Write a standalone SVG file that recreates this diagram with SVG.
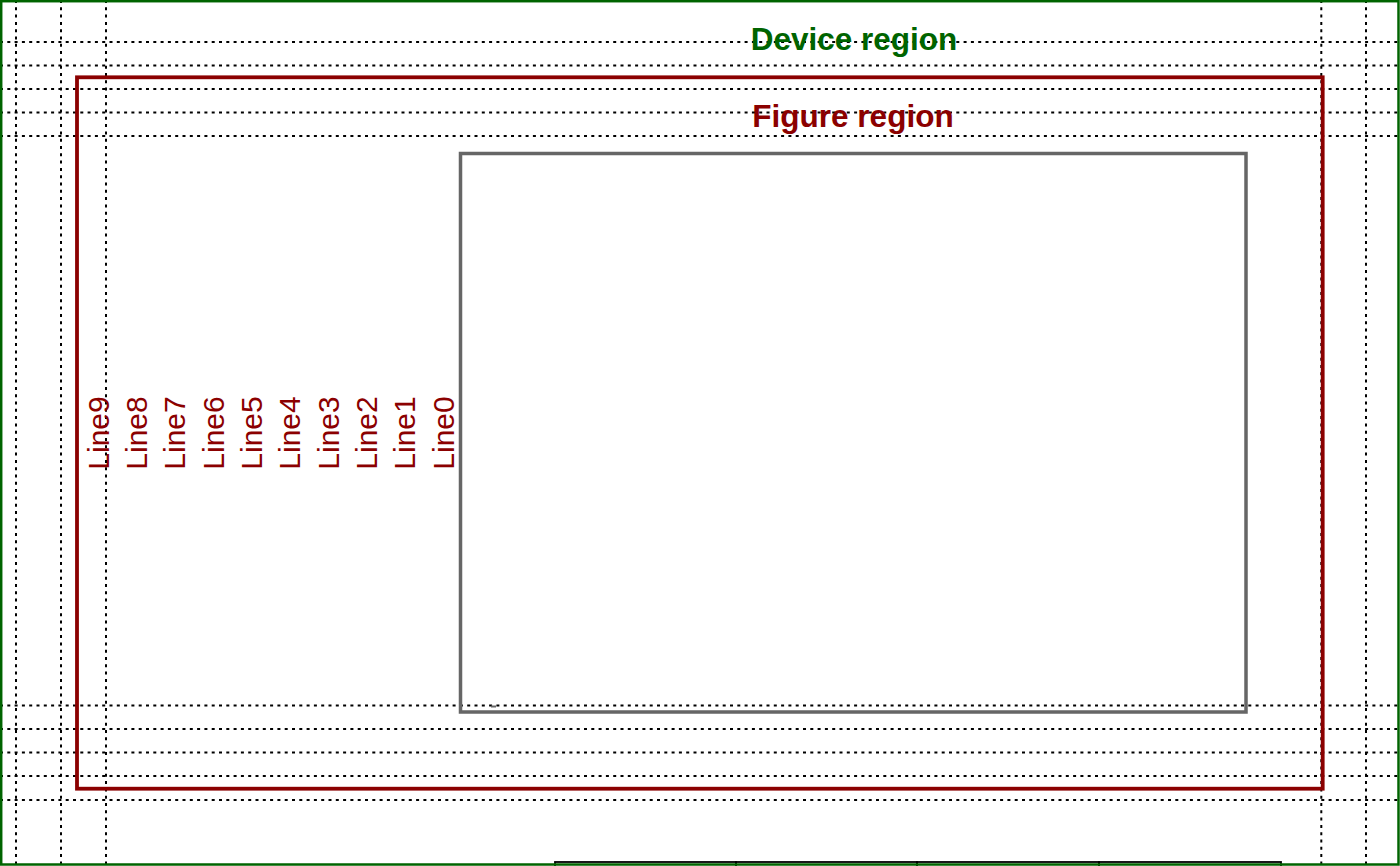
<svg xmlns="http://www.w3.org/2000/svg" width="1400" height="866" viewBox="0 0 1400 866">
<style>
.grid{stroke:#000;stroke-width:2;stroke-dasharray:3 4.3;fill:none}
.lbl{font-family:"Liberation Sans",Arial,sans-serif;font-size:30px;fill:#8B0000;text-anchor:middle}
.title{font-family:"Liberation Sans",Arial,sans-serif;font-size:31.5px;font-weight:bold;text-anchor:middle}
</style>
<rect width="1400" height="866" fill="#fff"/>
<g id="connectors">
<line class="grid" x1="16" y1="0" x2="16" y2="866"/>
<line class="grid" x1="61" y1="0" x2="61" y2="866"/>
<line class="grid" x1="106" y1="0" x2="106" y2="866"/>
<line class="grid" x1="1321.3" y1="0" x2="1321.3" y2="866"/>
<line class="grid" x1="1366" y1="0" x2="1366" y2="866"/>
<line class="grid" x1="0" y1="42" x2="1400" y2="42"/>
<line class="grid" x1="0" y1="65.5" x2="1400" y2="65.5"/>
<line class="grid" x1="0" y1="89" x2="1400" y2="89"/>
<line class="grid" x1="0" y1="112.5" x2="1400" y2="112.5"/>
<line class="grid" x1="0" y1="136" x2="1400" y2="136"/>
<line class="grid" x1="0" y1="705.5" x2="1400" y2="705.5"/>
<line class="grid" x1="0" y1="729" x2="1400" y2="729"/>
<line class="grid" x1="0" y1="752.5" x2="1400" y2="752.5"/>
<line class="grid" x1="0" y1="776" x2="1400" y2="776"/>
<line class="grid" x1="0" y1="800" x2="1400" y2="800"/>
</g>
<g id="bottom-boxes" fill="none" stroke="#000" stroke-width="1.8">
<rect x="555" y="862" width="181" height="20"/>
<rect x="736" y="862" width="181" height="20"/>
<rect x="917" y="862" width="182" height="20"/>
<rect x="1099" y="862" width="182" height="20"/>
</g>
<g id="device-region">
<rect x="1.2" y="1.2" width="1397.3" height="863.3" fill="none" stroke="#006400" stroke-width="2.5"/>
<text class="title" x="854" y="50" fill="#006400">Device region</text>
</g>
<g id="figure-region">
<rect x="77" y="77.3" width="1245.7" height="711.4" fill="none" stroke="#8B0000" stroke-width="3.8"/>
<text class="title" x="853" y="126.5" fill="#8B0000">Figure region</text>
</g>
<g id="plot-region">
<rect x="460.5" y="153.5" width="785.5" height="558.5" fill="none" stroke="#666" stroke-width="3.5"/>
<line x1="491" y1="706.5" x2="496" y2="706.5" stroke="#666" stroke-width="2"/>
</g>
<g id="margin-lines">
<text class="lbl" transform="translate(453.5,433) rotate(-90)">Line0</text>
<text class="lbl" transform="translate(415.2,433) rotate(-90)">Line1</text>
<text class="lbl" transform="translate(376.9,433) rotate(-90)">Line2</text>
<text class="lbl" transform="translate(338.6,433) rotate(-90)">Line3</text>
<text class="lbl" transform="translate(300.3,433) rotate(-90)">Line4</text>
<text class="lbl" transform="translate(262,433) rotate(-90)">Line5</text>
<text class="lbl" transform="translate(223.7,433) rotate(-90)">Line6</text>
<text class="lbl" transform="translate(185.4,433) rotate(-90)">Line7</text>
<text class="lbl" transform="translate(147.1,433) rotate(-90)">Line8</text>
<text class="lbl" transform="translate(108.8,433) rotate(-90)">Line9</text>
</g>
</svg>
